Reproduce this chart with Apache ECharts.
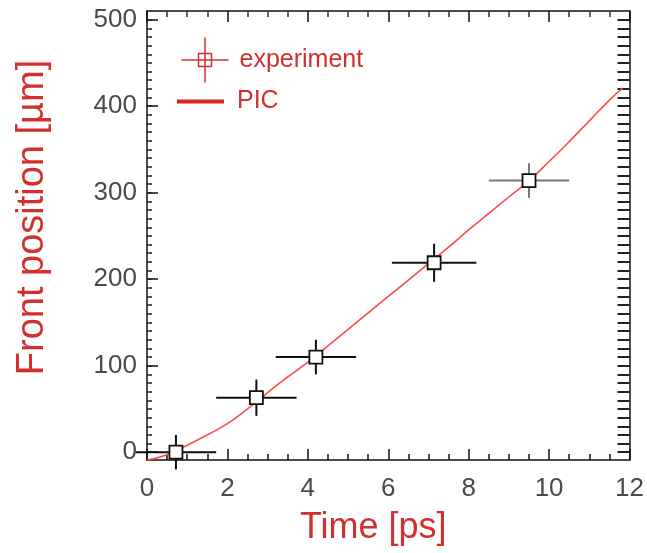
<!DOCTYPE html>
<html>
<head>
<meta charset="utf-8">
<script src="https://cdn.jsdelivr.net/npm/echarts@6/dist/echarts.min.js"></script>
<style>html,body{margin:0;padding:0;background:#fff;}#c{width:647px;height:553px;}</style>
</head>
<body>
<div id="c"></div>
<script>
// ---- data ----
const expTime = [0.72, 2.72, 4.2, 7.14, 9.5];
const expPos = [0, 63, 110, 219, 314];
const expTimeErr = [1.0, 1.0, 1.0, 1.05, 1.0];
const expPosErr = [20, 21, 20, 22, 20];
const picTime = [0, 0.5, 1, 1.5, 2, 2.5, 3, 3.5, 4, 4.5, 5, 5.5, 6, 6.5, 7, 7.5, 8, 8.5, 9, 9.5, 10, 10.5, 11, 11.5, 11.83];
const picPos = [-9, -3, 8, 20, 33, 50, 69, 87, 104, 123, 142, 161, 180, 199, 218, 237, 257, 276, 295, 314, 336, 359, 383, 407, 421];
const yLabels = [0, 100, 200, 300, 400, 500];
const yMinor = [];
for (let v = 0; v <= 500; v += 10) yMinor.push(v);

const RED = '#d22f2f';
const chart = echarts.init(document.getElementById('c'), null, {renderer: 'canvas'});
const expData = expTime.map((t, i) => [t, expPos[i], expTimeErr[i], expPosErr[i]]);
const picData = picTime.map((t, i) => [t, picPos[i]]);
const FONT = 'Liberation Sans';

const option = {
  backgroundColor: '#fff',
  animation: false,
  textStyle: {fontFamily: FONT},
  grid: {left: 147, right: 14, top: 11, bottom: 93, show: false},
  legend: [
    {
      data: [{name: 'experiment', icon: 'path://M0,22.5 L47,22.5 M23.5,0 L23.5,45 M17,16 L30,16 L30,29 L17,29 Z',
        itemStyle: {color: 'none', borderColor: RED, borderWidth: 1.5}}],
      left: 179, top: 35, padding: 0, itemWidth: 47, itemHeight: 45,
      textStyle: {color: RED, fontSize: 25, fontFamily: FONT, padding: [0, 0, 0, 6]},
      selectedMode: false
    },
    {
      data: [{name: 'PIC', icon: 'rect', itemStyle: {color: '#e0231b'}}],
      left: 177, top: 89, padding: 0, itemWidth: 47, itemHeight: 4,
      textStyle: {color: RED, fontSize: 25, fontFamily: FONT, padding: [0, 0, 0, 8]},
      selectedMode: false
    }
  ],
  xAxis: [
    {
      type: 'value', min: 0, max: 12, interval: 2, position: 'bottom',
      name: 'Time [ps]', nameLocation: 'middle', nameGap: 50,
      nameTextStyle: {color: RED, fontSize: 36, fontFamily: FONT, padding: [0, 30, 0, 0]},
      axisLine: {show: true, onZero: false, lineStyle: {color: '#111', width: 1.5}},
      axisTick: {show: true, inside: true, length: 11, lineStyle: {color: '#111', width: 1.5}},
      minorTick: {show: true, splitNumber: 4, length: 6, lineStyle: {color: '#111', width: 1.5}},
      axisLabel: {color: '#4a4a4a', fontSize: 26, margin: 16, fontFamily: FONT},
      splitLine: {show: false}
    },
    {
      type: 'value', min: 0, max: 12, interval: 2, position: 'top',
      axisLine: {show: true, onZero: false, lineStyle: {color: '#111', width: 1.5}},
      axisTick: {show: true, inside: true, length: 11, lineStyle: {color: '#111', width: 1.5}},
      minorTick: {show: true, splitNumber: 4, length: 6, lineStyle: {color: '#333', width: 1.5}},
      axisLabel: {show: false},
      splitLine: {show: false}
    }
  ],
  yAxis: [
    {
      type: 'value', min: -9, max: 510, position: 'left',
      name: 'Front position [µm]', nameLocation: 'middle', nameGap: 95,
      nameTextStyle: {color: RED, fontSize: 38, fontFamily: FONT, padding: [0, 0, 0, 36]},
      axisLine: {show: true, onZero: false, lineStyle: {color: '#111', width: 1.5}},
      axisTick: {show: true, inside: true, length: 11, customValues: yLabels, lineStyle: {color: '#111', width: 1.5}},
      axisLabel: {color: '#4a4a4a', fontSize: 26, margin: 10, customValues: yLabels, fontFamily: FONT},
      splitLine: {show: false}
    },
    {
      type: 'value', min: -9, max: 510, position: 'left',
      axisLine: {show: false, onZero: false},
      axisTick: {show: true, inside: true, length: 5, customValues: yMinor, lineStyle: {color: '#222', width: 1.5}},
      axisLabel: {show: false},
      splitLine: {show: false}
    },
    {
      type: 'value', min: -9, max: 510, position: 'right',
      axisLine: {show: true, onZero: false, lineStyle: {color: '#111', width: 1.5}},
      axisTick: {show: true, inside: true, length: 12, customValues: yMinor, lineStyle: {color: '#222', width: 2}},
      axisLabel: {show: false},
      splitLine: {show: false}
    }
  ],
  series: [
    {
      name: 'PIC', type: 'line', data: picData, smooth: true, showSymbol: false,
      lineStyle: {color: '#ff4a4a', width: 1.6}, itemStyle: {color: '#e0231b'}, z: 3
    },
    {
      name: 'experiment', type: 'custom', data: expData, clip: false, z: 4,
      encode: {x: 0, y: 1},
      itemStyle: {color: RED},
      renderItem: function (params, api) {
        const x = api.value(0), y = api.value(1), xe = api.value(2), ye = api.value(3);
        const c = api.coord([x, y]);
        const l = api.coord([x - xe, y]);
        const r = api.coord([x + xe, y]);
        const t = api.coord([x, y + ye]);
        const b = api.coord([x, y - ye]);
        const col = params.dataIndex === 4 ? '#777' : '#111';
        const s = 6.5;
        return {
          type: 'group',
          children: [
            {type: 'line', shape: {x1: l[0], y1: l[1], x2: r[0], y2: r[1]}, style: {stroke: col, lineWidth: 2}},
            {type: 'line', shape: {x1: t[0], y1: t[1], x2: b[0], y2: b[1]}, style: {stroke: col, lineWidth: 2}},
            {type: 'rect', shape: {x: c[0] - s, y: c[1] - s, width: 2 * s, height: 2 * s},
              style: {fill: '#fff', stroke: '#111', lineWidth: 1.8}}
          ]
        };
      }
    }
  ]
};
chart.setOption(option);
</script>
</body>
</html>
